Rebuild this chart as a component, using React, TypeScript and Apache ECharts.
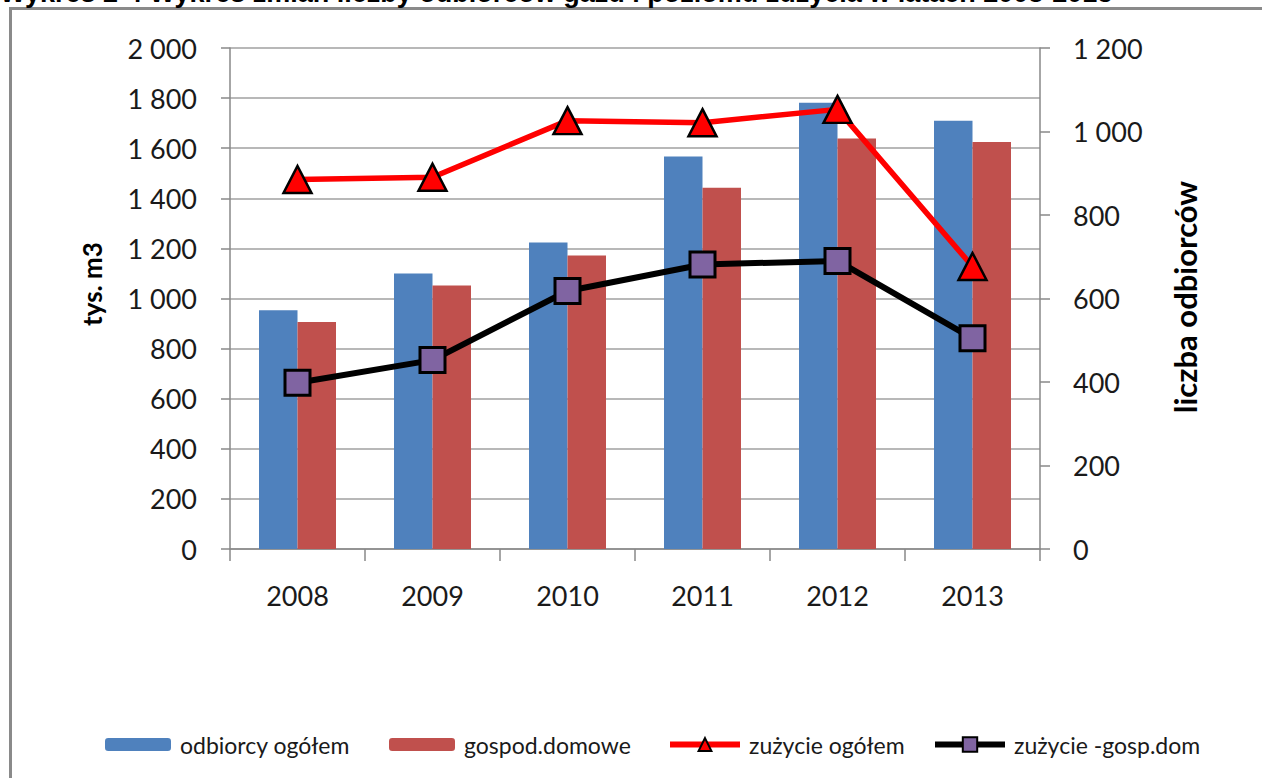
import React, { useEffect, useRef } from "react";
import * as echarts from "echarts";

const categories = ["2008", "2009", "2010", "2011", "2012", "2013"];
// bars: number of customers (right axis "liczba odbiorców")
const odbiorcyOgolem = [572, 660, 734, 940, 1069, 1026];
const gospodDomowe = [544, 631, 703, 865, 983, 975];
// lines: consumption in tys. m3 (left axis)
const zuzycieOgolem = [1475, 1484, 1710, 1702, 1755, 1128];
const zuzycieGospDom = [664, 754, 1030, 1136, 1150, 841];

const titleText =
  "Wykres 2-4 Wykres zmian liczby odbiorców gazu i poziomu zużycia w latach 2008-2013";
const leftAxisTitle = "tys. m3";
const rightAxisTitle = "liczba odbiorców";

const FONT = "Lato, 'Noto Sans', sans-serif";
const fmt = (v: number) =>
  v >= 1000 ? `${Math.floor(v / 1000)} ${String(v % 1000).padStart(3, "0")}` : String(v);

export default function App() {
  const ref = useRef<HTMLDivElement>(null);
  useEffect(() => {
    document.body.style.margin = "0";
    if (!ref.current) return;
    const chart = echarts.init(ref.current, null, { renderer: "svg" });
    const gridLeft = 230;
    const gridTop = 48;
    const gridRight = 222;
    const gridBottom = 229;
    const legendText = { fontFamily: FONT, fontSize: 23, color: "#1a1a1a", padding: [0, 0, 0, 4] };
    const legendBase = { top: 728, orient: "horizontal", itemGap: 0, textStyle: legendText };
    chart.setOption({
      animation: false,
      backgroundColor: "#ffffff",
      grid: { left: gridLeft, right: gridRight, top: gridTop, bottom: gridBottom, containLabel: false },
      legend: [
        { ...legendBase, left: 100, itemWidth: 66, itemHeight: 13, data: ["odbiorcy ogółem"] },
        { ...legendBase, left: 384, itemWidth: 66, itemHeight: 13, data: ["gospod.domowe"] },
        {
          ...legendBase,
          left: 662,
          itemWidth: 70,
          itemHeight: 16,
          lineStyle: { width: 6 },
          data: ["zużycie ogółem"],
        },
        {
          ...legendBase,
          left: 927,
          itemWidth: 70,
          itemHeight: 18,
          lineStyle: { width: 6 },
          data: ["zużycie -gosp.dom"],
        },
      ],
      xAxis: {
        type: "category",
        data: categories,
        boundaryGap: true,
        axisLine: { lineStyle: { color: "#888888", width: 1.5 } },
        axisTick: { show: true, length: 12, lineStyle: { color: "#888888", width: 1.5 } },
        axisLabel: { fontFamily: FONT, fontSize: 27, color: "#1a1a1a", margin: 33 },
      },
      yAxis: [
        {
          type: "value",
          min: 0,
          max: 2000,
          interval: 200,
          position: "left",
          axisLine: { show: true, lineStyle: { color: "#888888", width: 1.5 } },
          axisTick: { show: true, length: 9, inside: false, lineStyle: { color: "#888888", width: 1.5 } },
          splitLine: { show: true, lineStyle: { color: "#a0a0a0", width: 1.6 } },
          axisLabel: { fontFamily: FONT, fontSize: 27, color: "#1a1a1a", margin: 33, formatter: fmt },
        },
        {
          type: "value",
          min: 0,
          max: 1200,
          interval: 200,
          position: "right",
          axisLine: { show: true, lineStyle: { color: "#888888", width: 1.5 } },
          axisTick: { show: true, length: 10, inside: false, lineStyle: { color: "#888888", width: 1.5 } },
          splitLine: { show: false },
          axisLabel: { fontFamily: FONT, fontSize: 27, color: "#1a1a1a", margin: 33, formatter: fmt },
        },
      ],
      series: [
        {
          name: "odbiorcy ogółem",
          type: "bar",
          yAxisIndex: 1,
          data: odbiorcyOgolem,
          barWidth: 38.5,
          barGap: "0%",
          itemStyle: { color: "#4F81BD" },
        },
        {
          name: "gospod.domowe",
          type: "bar",
          yAxisIndex: 1,
          data: gospodDomowe,
          barWidth: 38.5,
          barGap: "0%",
          itemStyle: { color: "#C0504D" },
        },
        {
          name: "zużycie ogółem",
          type: "line",
          yAxisIndex: 0,
          data: zuzycieOgolem,
          symbol: "triangle",
          symbolSize: [28, 27],
          lineStyle: { color: "#FF0000", width: 5.5 },
          itemStyle: { color: "#FF0000", borderColor: "#000000", borderWidth: 2.5 },
          z: 5,
        },
        {
          name: "zużycie -gosp.dom",
          type: "line",
          yAxisIndex: 0,
          data: zuzycieGospDom,
          symbol: "rect",
          symbolSize: 25,
          lineStyle: { color: "#000000", width: 6 },
          itemStyle: { color: "#8064A2", borderColor: "#000000", borderWidth: 3 },
          z: 6,
        },
      ],
      graphic: [
        {
          type: "rect",
          shape: { x: 10.5, y: 8.5, width: 1400, height: 900 },
          style: { fill: "none", stroke: "#8a8a8a", lineWidth: 3 },
          silent: true,
        },
        {
          type: "text",
          x: 0,
          y: -7,
          style: {
            text: titleText,
            font: "bold 27px 'Liberation Sans', Arial, sans-serif",
            fill: "#000000",
            align: "left",
            verticalAlign: "middle",
          },
          silent: true,
        },
        {
          type: "text",
          x: 92,
          y: 284,
          rotation: Math.PI / 2,
          style: {
            text: leftAxisTitle,
            font: `bold 26px ${FONT}`,
            fill: "#000000",
            align: "center",
            verticalAlign: "middle",
          },
          silent: true,
        },
        {
          type: "text",
          x: 1185,
          y: 297,
          rotation: Math.PI / 2,
          style: {
            text: rightAxisTitle,
            font: `bold 31px ${FONT}`,
            fill: "#000000",
            align: "center",
            verticalAlign: "middle",
          },
          silent: true,
        },
      ],
    });
    return () => chart.dispose();
  }, []);
  return (
    <div
      ref={ref}
      style={{ position: "absolute", left: 0, top: 0, width: 1262, height: 778 }}
    />
  );
}
